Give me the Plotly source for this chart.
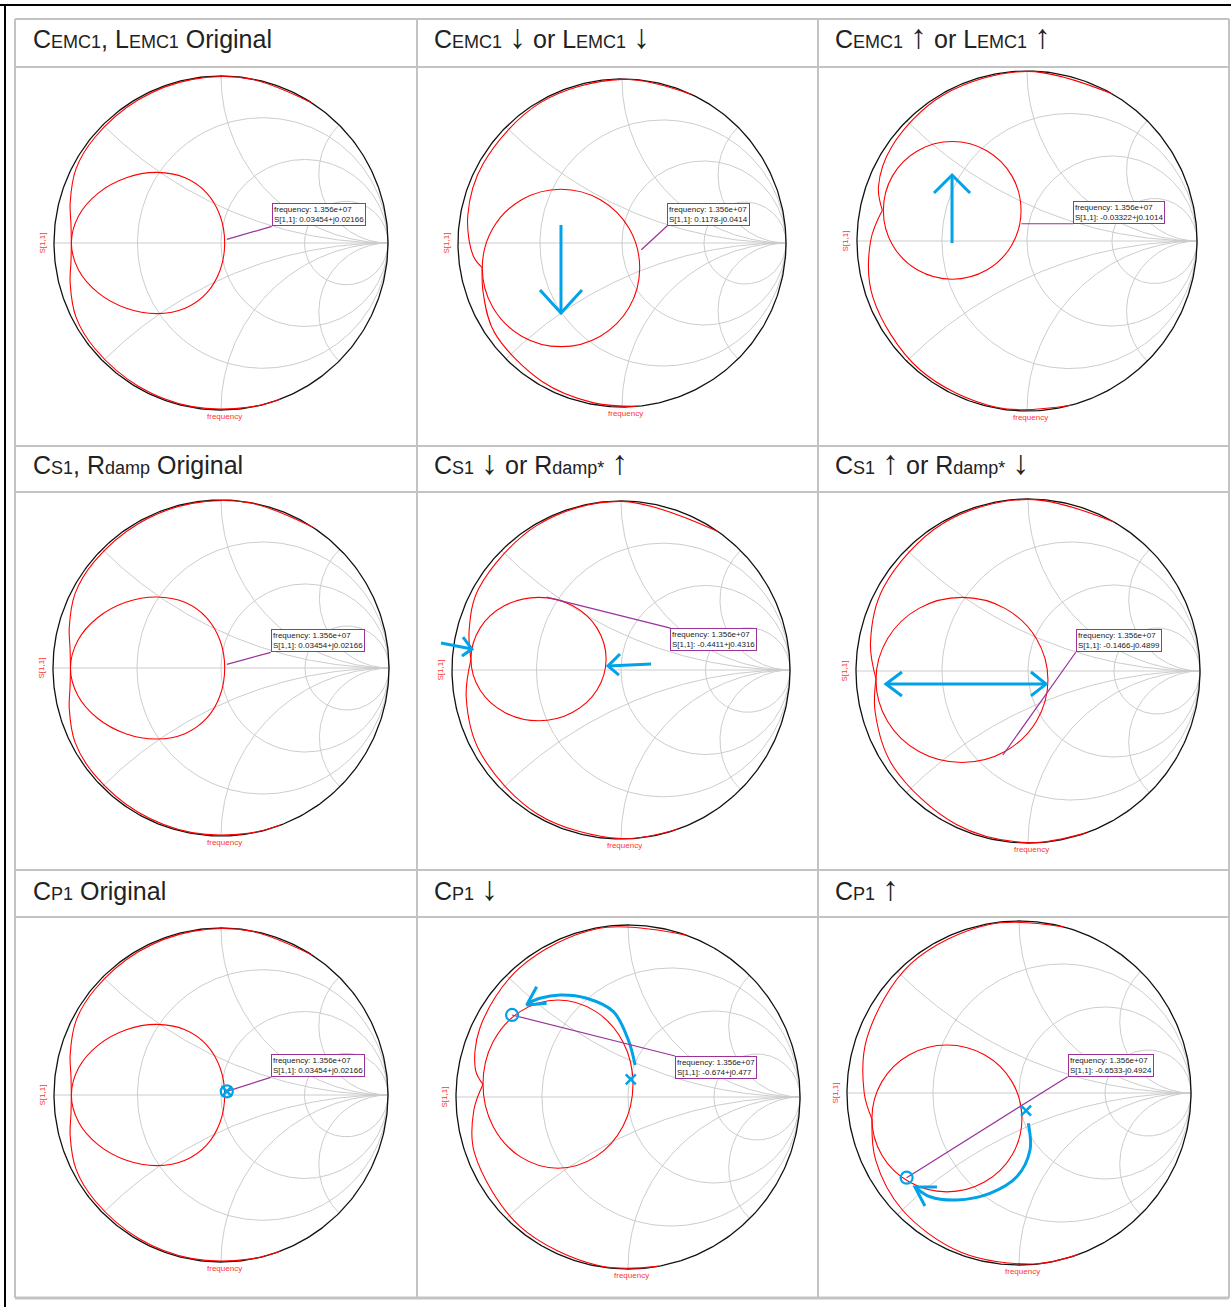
import numpy as np
import plotly.graph_objects as go

W, H = 1231, 1307

# ---------------- data ----------------
SUBF = '<span style="font-size:18px">{}</span>'
ARR = '<span style="font-size:34px">{}</span>'
HEADERS = [
    "C" + SUBF.format("EMC1") + ", L" + SUBF.format("EMC1") + " Original",
    "C" + SUBF.format("EMC1") + " " + ARR.format("↓") + " or L" + SUBF.format("EMC1") + " " + ARR.format("↓"),
    "C" + SUBF.format("EMC1") + " " + ARR.format("↑") + " or L" + SUBF.format("EMC1") + " " + ARR.format("↑"),
    "C" + SUBF.format("S1") + ", R" + SUBF.format("damp") + " Original",
    "C" + SUBF.format("S1") + " " + ARR.format("↓") + " or R" + SUBF.format("damp*") + " " + ARR.format("↑"),
    "C" + SUBF.format("S1") + " " + ARR.format("↑") + " or R" + SUBF.format("damp*") + " " + ARR.format("↓"),
    "C" + SUBF.format("P1") + " Original",
    "C" + SUBF.format("P1") + " " + ARR.format("↓"),
    "C" + SUBF.format("P1") + " " + ARR.format("↑"),
]

# Smith grid values (normalised resistance / reactance)
GRID_R = [1 / 3, 1.0, 3.0]
GRID_X = [0.4142, 1.0, 2.4142]

MARKER_FREQ = "1.356e+07"
MARKER_RE = [0.03454, 0.1178, -0.03322, 0.03454, -0.4411, -0.1466, 0.03454, -0.674, -0.6533]
MARKER_IM = [0.02166, -0.0414, 0.1014, 0.02166, 0.4316, -0.4899, 0.02166, 0.477, -0.4924]
MARKER_TXT = ["0.03454+j0.02166", "0.1178-j0.0414", "-0.03322+j0.1014",
              "0.03454+j0.02166", "-0.4411+j0.4316", "-0.1466-j0.4899",
              "0.03454+j0.02166", "-0.674+j0.477", "-0.6533-j0.4924"]

# S11 sweep: outer part (angle deg, |S11|), inner loop (re, im)
ORIG_TOP = [(57, 1.0), (80, 0.998), (100, 0.995), (120, 0.99), (140, 0.985), (153, 0.975), (165, 0.935), (173, 0.905), (180, 0.896)]
ORIG_LOOP = [(-0.896, 0.0), (-0.853, 0.162), (-0.735, 0.299), (-0.567, 0.391), (-0.383, 0.423), (-0.215, 0.391),
             (-0.085, 0.299), (-0.005, 0.162), (0.022, 0.0), (-0.005, -0.162), (-0.085, -0.299), (-0.215, -0.391),
             (-0.383, -0.423), (-0.567, -0.391), (-0.735, -0.299), (-0.853, -0.162), (-0.896, 0.0)]
ORIG_BOT = [(180, 0.896), (187, 0.905), (195, 0.935), (207, 0.975), (220, 0.985), (240, 0.99), (260, 0.995), (280, 0.998), (291, 1.0)]

CDN_TOP = [(65, 1.0), (90, 0.998), (120, 0.99), (150, 0.975), (170, 0.955), (185, 0.91), (190, 0.866)]
CDN_LOOP = [(-0.852, -0.152), (-0.788, 0.088), (-0.612, 0.264), (-0.372, 0.328), (-0.132, 0.264), (0.044, 0.088),
            (0.108, -0.152), (0.044, -0.392), (-0.132, -0.568), (-0.372, -0.632), (-0.612, -0.568), (-0.788, -0.392),
            (-0.852, -0.152)]
CDN_BOT = [(190, 0.866), (200, 0.9), (215, 0.95), (240, 0.975), (260, 0.99), (275, 1.0)]

CUP_TOP = [(60, 1.0), (90, 0.998), (120, 0.99), (145, 0.97), (160, 0.93), (168, 0.87)]
CUP_LOOP = [(-0.845, 0.18), (-0.791, 0.383), (-0.643, 0.531), (-0.44, 0.585), (-0.237, 0.531), (-0.089, 0.383),
            (-0.035, 0.18), (-0.089, -0.023), (-0.237, -0.171), (-0.44, -0.225), (-0.643, -0.171), (-0.791, -0.023),
            (-0.845, 0.18)]
CUP_BOT = [(168, 0.87), (180, 0.92), (200, 0.965), (230, 0.985), (260, 0.995), (285, 1.0)]

SDN_TOP = [(55, 1.0), (90, 0.998), (120, 0.99), (150, 0.97), (165, 0.93), (176, 0.89)]
SDN_LOOP = [(-0.888, 0.065), (-0.834, 0.248), (-0.688, 0.381), (-0.488, 0.430), (-0.288, 0.381), (-0.142, 0.248),
            (-0.088, 0.065), (-0.142, -0.118), (-0.288, -0.251), (-0.488, -0.300), (-0.688, -0.251), (-0.834, -0.118),
            (-0.888, 0.065)]
SDN_BOT = [(176, 0.89), (190, 0.93), (210, 0.965), (240, 0.985), (270, 0.998), (290, 1.0)]

SUP_TOP = [(60, 1.0), (90, 0.998), (120, 0.99), (150, 0.97), (170, 0.93), (183, 0.885)]
SUP_LOOP = [(-0.884, -0.052), (-0.817, 0.188), (-0.634, 0.364), (-0.384, 0.428), (-0.134, 0.364), (0.049, 0.188),
            (0.116, -0.052), (0.049, -0.292), (-0.134, -0.468), (-0.384, -0.532), (-0.634, -0.468), (-0.817, -0.292),
            (-0.884, -0.052)]
SUP_BOT = [(183, 0.885), (195, 0.92), (215, 0.96), (245, 0.985), (270, 0.998), (290, 1.0)]

PDN_TOP = [(70, 1.0), (100, 0.995), (130, 0.98), (155, 0.95), (170, 0.9), (175, 0.846)]
PDN_LOOP = [(-0.843, 0.075), (-0.785, 0.320), (-0.625, 0.498), (-0.407, 0.564), (-0.189, 0.498), (-0.029, 0.320),
            (0.029, 0.075), (-0.029, -0.170), (-0.189, -0.348), (-0.407, -0.414), (-0.625, -0.348), (-0.785, -0.170),
            (-0.843, 0.075)]
PDN_BOT = [(175, 0.846), (185, 0.9), (200, 0.95), (230, 0.98), (260, 0.995), (280, 1.0)]

PUP_TOP = [(75, 1.0), (100, 0.995), (130, 0.98), (160, 0.94), (180, 0.9), (190, 0.868)]
PUP_LOOP = [(-0.855, -0.148), (-0.797, 0.066), (-0.637, 0.222), (-0.419, 0.279), (-0.201, 0.222), (-0.041, 0.066),
            (0.017, -0.148), (-0.041, -0.362), (-0.201, -0.518), (-0.419, -0.575), (-0.637, -0.518), (-0.797, -0.362),
            (-0.855, -0.148)]
PUP_BOT = [(190, 0.868), (205, 0.92), (225, 0.96), (250, 0.985), (275, 0.998), (290, 1.0)]

TRACES = [(ORIG_TOP, ORIG_LOOP, ORIG_BOT), (CDN_TOP, CDN_LOOP, CDN_BOT), (CUP_TOP, CUP_LOOP, CUP_BOT),
          (ORIG_TOP, ORIG_LOOP, ORIG_BOT), (SDN_TOP, SDN_LOOP, SDN_BOT), (SUP_TOP, SUP_LOOP, SUP_BOT),
          (ORIG_TOP, ORIG_LOOP, ORIG_BOT), (PDN_TOP, PDN_LOOP, PDN_BOT), (PUP_TOP, PUP_LOOP, PUP_BOT)]

# ---------------- layout geometry (pixels) ----------------
PANELS = [(221, 243, 167), (622, 243, 164), (1027, 241, 170),
          (221, 668, 168), (621, 670, 169), (1028, 671, 172),
          (221, 1095, 167), (628, 1097, 172), (1019, 1093, 172)]
# label box corner offset from marker (px, +down) and which corner the leader meets
BOX_OFF = [(45, -13, "bottom"), (26, -24, "bottom"), (52, 0, "bottom"),
           (44, -12, "bottom"), (124, 31, "top"), (73, -103, "bottom"),
           (44, -14, "bottom"), (163, 41, "top"), (161, -101, "bottom")]

# blue hand-drawn overlays in reflection-coefficient units
BLUE_LINES = {
    1: [[(-0.372, 0.110), (-0.372, -0.427)], [(-0.5, -0.287), (-0.372, -0.427), (-0.244, -0.287)]],
    2: [[(-0.441, -0.012), (-0.441, 0.388)], [(-0.547, 0.282), (-0.441, 0.388), (-0.335, 0.282)]],
    4: [[(0.178, 0.036), (-0.077, 0.024)], [(-0.006, 0.095), (-0.077, 0.024), (-0.012, -0.030)],
        [(-1.065, 0.160), (-0.882, 0.124)], [(-0.935, 0.195), (-0.882, 0.124), (-0.941, 0.083)]],
    5: [[(-0.826, -0.076), (0.105, -0.076)], [(-0.733, -0.006), (-0.826, -0.076), (-0.733, -0.145)],
        [(0.017, -0.006), (0.105, -0.076), (0.017, -0.145)]],
    7: [[(-0.531, 0.641), (-0.589, 0.535), (-0.473, 0.545)]],
    8: [[(-0.547, -0.657), (-0.605, -0.546), (-0.477, -0.547)]],
}
BLUE_CURVES = {
    7: [(0.041, 0.186), (0.002, 0.331), (-0.085, 0.496), (-0.240, 0.574), (-0.395, 0.593), (-0.512, 0.574), (-0.580, 0.545)],
    8: [(0.054, -0.176), (0.064, -0.331), (-0.013, -0.487), (-0.169, -0.583), (-0.362, -0.622), (-0.517, -0.603), (-0.595, -0.554)],
}
BLUE_X = {6: (0.035, 0.022), 7: (0.016, 0.103), 8: (0.041, -0.103)}
BLUE_RING = [6, 7, 8]

BLUE = "#00a2e8"
PURPLE = "#993399"
GRIDC = "#cccccc"
FONT = "Liberation Sans, Arial, sans-serif"
K = 1.15

fig = go.Figure()
layout_axes = {}
shapes = []
annotations = []


def px2paper(x, y):
    return x / W, 1 - y / H


def grid_xy():
    xs, ys = [], []
    t = np.linspace(0, 2 * np.pi, 241)
    for r in GRID_R:
        c, rad = r / (1 + r), 1 / (1 + r)
        xs += list(c + rad * np.cos(t)) + [None]
        ys += list(rad * np.sin(t)) + [None]
    for xv in GRID_X:
        rad = 1 / xv
        px_, py_ = (xv ** 2 - 1) / (xv ** 2 + 1), 2 * xv / (xv ** 2 + 1)
        a0 = np.arctan2(py_ - rad, px_ - 1) % (2 * np.pi)
        aa = np.linspace(a0, 1.5 * np.pi, 160)
        for s in (1, -1):
            xs += list(1 + rad * np.cos(aa)) + [None]
            ys += list(s * (rad + rad * np.sin(aa))) + [None]
    xs += [-1, 1, None]
    ys += [0, 0, None]
    return xs, ys


GX, GY = grid_xy()
TT = np.linspace(0, 2 * np.pi, 361)

for i, (cx, cy, R) in enumerate(PANELS):
    n = "" if i == 0 else str(i + 1)
    xa, ya = "x" + n, "y" + n
    x0, y1 = px2paper(cx - K * R, cy - K * R)
    x1, y0 = px2paper(cx + K * R, cy + K * R)
    layout_axes["xaxis" + n] = dict(domain=[x0, x1], range=[-K, K], visible=False, fixedrange=True)
    layout_axes["yaxis" + n] = dict(domain=[y0, y1], range=[-K, K], visible=False, fixedrange=True)

    fig.add_trace(go.Scatter(x=GX, y=GY, mode="lines", line=dict(color=GRIDC, width=1),
                             hoverinfo="skip", xaxis=xa, yaxis=ya))
    fig.add_trace(go.Scatter(x=np.cos(TT), y=np.sin(TT), mode="lines", line=dict(color="#111111", width=1.3),
                             hoverinfo="skip", xaxis=xa, yaxis=ya))

    top, loop, bot = TRACES[i]
    txs, tys = [], []
    for seg, kind in ((top, "p"), (loop, "c"), (bot, "p")):
        for a, b in seg:
            if kind == "p":
                txs.append(b * np.cos(np.radians(a)))
                tys.append(b * np.sin(np.radians(a)))
            else:
                txs.append(a)
                tys.append(b)
        txs.append(None)
        tys.append(None)
    fig.add_trace(go.Scatter(x=txs, y=tys, mode="lines", line=dict(color="#ff0000", width=1.1, shape="spline", smoothing=1.0),
                             hoverinfo="skip", xaxis=xa, yaxis=ya))

    # marker leader + label box
    mx, my = MARKER_RE[i], MARKER_IM[i]
    ox, oy, corner = BOX_OFF[i]
    bx, by = mx + ox / R, my - oy / R
    shapes.append(dict(type="line", xref=xa, yref=ya, x0=mx, y0=my, x1=bx, y1=by,
                       line=dict(color=PURPLE, width=1.2)))
    annotations.append(dict(xref=xa, yref=ya, x=bx, y=by, xanchor="left", yanchor=corner, showarrow=False,
                            text=f"frequency: {MARKER_FREQ}<br>S[1,1]: {MARKER_TXT[i]}", align="left",
                            font=dict(family=FONT, size=8, color="#222222"), bgcolor="white",
                            bordercolor=PURPLE, borderwidth=1, borderpad=1))
    annotations.append(dict(xref=xa, yref=ya, x=0.02, y=-1, yanchor="top", xanchor="center", showarrow=False,
                            text="frequency", font=dict(family=FONT, size=8, color="#ff3333"), yshift=0))
    annotations.append(dict(xref=xa, yref=ya, x=-1, y=0, xanchor="right", yanchor="middle", showarrow=False,
                            text="S[1,1]", textangle=-90, font=dict(family=FONT, size=8, color="#ff3333"), xshift=-6))

    # blue overlays
    for line in BLUE_LINES.get(i, []):
        fig.add_trace(go.Scatter(x=[p[0] for p in line], y=[p[1] for p in line], mode="lines",
                                 line=dict(color=BLUE, width=3), hoverinfo="skip", xaxis=xa, yaxis=ya))
    if i in BLUE_CURVES:
        c = BLUE_CURVES[i]
        fig.add_trace(go.Scatter(x=[p[0] for p in c], y=[p[1] for p in c], mode="lines",
                                 line=dict(color=BLUE, width=3, shape="spline"), hoverinfo="skip", xaxis=xa, yaxis=ya))
    if i in BLUE_RING:
        rr = 6 / R
        shapes.append(dict(type="circle", xref=xa, yref=ya, x0=mx - rr, x1=mx + rr, y0=my - rr, y1=my + rr,
                           line=dict(color=BLUE, width=2.2)))
    if i in BLUE_X:
        qx, qy = BLUE_X[i]
        d = 5 / R
        for s in (1, -1):
            shapes.append(dict(type="line", xref=xa, yref=ya, x0=qx - d, y0=qy - s * d, x1=qx + d, y1=qy + s * d,
                               line=dict(color=BLUE, width=2.5)))

# table
TABLE_X = [15, 417, 818, 1229]
TABLE_Y = [19, 67, 446, 492, 870, 917, 1298]
for xv in TABLE_X:
    x, ya0 = px2paper(xv, TABLE_Y[0])
    _, ya1 = px2paper(xv, TABLE_Y[-1])
    shapes.append(dict(type="line", xref="paper", yref="paper", x0=x, x1=x, y0=ya0, y1=ya1,
                       line=dict(color="#c3c3c3", width=2)))
for yv in TABLE_Y:
    xa0, y = px2paper(TABLE_X[0], yv)
    xa1, _ = px2paper(TABLE_X[-1], yv)
    shapes.append(dict(type="line", xref="paper", yref="paper", x0=xa0, x1=xa1, y0=y, y1=y,
                       line=dict(color="#c3c3c3", width=2 if yv != TABLE_Y[-1] else 3)))
# outer black frame
shapes.append(dict(type="line", xref="paper", yref="paper", x0=0, x1=1, y0=1 - 5 / H, y1=1 - 5 / H,
                   line=dict(color="black", width=2)))
shapes.append(dict(type="line", xref="paper", yref="paper", x0=5 / W, x1=5 / W, y0=0, y1=1 - 5 / H,
                   line=dict(color="black", width=2)))

HEAD_POS = [(31, 39), (432, 36), (833, 36), (31, 465), (432, 462), (833, 462), (31, 891), (432, 888), (833, 888)]
for (hx, hy), txt in zip(HEAD_POS, HEADERS):
    x, y = px2paper(hx, hy)
    annotations.append(dict(xref="paper", yref="paper", x=x, y=y, xanchor="left", yanchor="middle", showarrow=False,
                            text=txt, font=dict(family=FONT, size=25, color="#222222")))

fig.update_layout(width=W, height=H, margin=dict(l=0, r=0, t=0, b=0), paper_bgcolor="white",
                  plot_bgcolor="rgba(0,0,0,0)", showlegend=False, shapes=shapes, annotations=annotations,
                  **layout_axes)
fig.write_html("out.html", config={"displayModeBar": False},
               post_script="document.body.style.margin='0px';document.body.style.overflow='hidden';")
